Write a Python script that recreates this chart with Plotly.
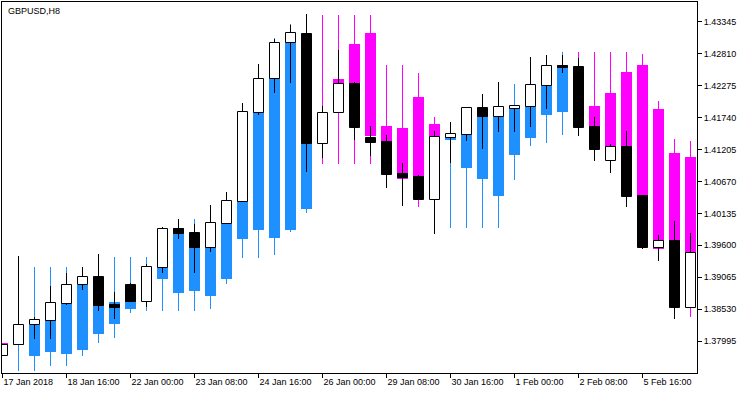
import plotly.graph_objects as go

# ---- data (GBPUSD, H8) ----
tick_pos = [0, 4, 8, 12, 16, 20, 24, 28, 32, 36, 40]
tick_text = ["17 Jan 2018", "18 Jan 16:00", "22 Jan 00:00", "23 Jan 08:00", "24 Jan 16:00",
             "26 Jan 00:00", "29 Jan 08:00", "30 Jan 16:00", "1 Feb 00:00", "2 Feb 08:00",
             "5 Feb 16:00"]
price_ticks = [1.43345, 1.42810, 1.42275, 1.41740, 1.41205, 1.40670,
               1.40135, 1.39600, 1.39065, 1.38530, 1.37995]

open_ = [1.37749, 1.37923, 1.38259, 1.38333, 1.38616, 1.38929, 1.39064, 1.38599, 1.38929, 1.38654,
         1.39220, 1.39869, 1.39802, 1.39560, 1.39963, 1.40331, 1.41824, 1.42384, 1.42988, 1.43144,
         1.41304, 1.41814, 1.42305, 1.41400, 1.41333, 1.40801, 1.40746, 1.40365, 1.41405, 1.41455,
         1.41903, 1.41757, 1.41881, 1.41915, 1.42272, 1.42612, 1.42590, 1.41584, 1.41019, 1.41249,
         1.40427, 1.39560, 1.39672, 1.38554]
high = [1.37928, 1.39421, 1.38403, 1.38918, 1.39141, 1.39236, 1.39454, 1.38822, 1.38963, 1.39287,
        1.39907, 1.40036, 1.39958, 1.40276, 1.40499, 1.41982, 1.42641, 1.43055, 1.43295, 1.43479,
        1.41936, 1.42876, 1.42344, 1.41601, 1.41450, 1.40975, 1.40784, 1.41517, 1.41668, 1.41903,
        1.42138, 1.42339, 1.41936, 1.42758, 1.42792, 1.42792, 1.42746, 1.41752, 1.41299, 1.41517,
        1.40427, 1.39773, 1.40008, 1.39802]
low = [1.37749, 1.37923, 1.38029, 1.38029, 1.38594, 1.38856, 1.38504, 1.38364, 1.38649, 1.38571,
       1.39141, 1.39706, 1.39136, 1.39488, 1.39963, 1.40331, 1.41785, 1.42159, 1.42327, 1.40830,
       1.41069, 1.41814, 1.41366, 1.41103, 1.40566, 1.40254, 1.40360, 1.39795, 1.40975, 1.41354,
       1.41215, 1.41505, 1.41505, 1.41589, 1.41891, 1.42485, 1.41433, 1.41019, 1.40818, 1.40248,
       1.39533, 1.39342, 1.38359, 1.38554]
close = [1.37928, 1.38264, 1.38343, 1.38631, 1.38929, 1.39064, 1.38582, 1.38554, 1.38649, 1.39231,
         1.39869, 1.39795, 1.39560, 1.39969, 1.40338, 1.41831, 1.42384, 1.42988, 1.43156, 1.41299,
         1.41814, 1.42300, 1.41573, 1.41321, 1.40784, 1.40734, 1.40360, 1.41416, 1.41462, 1.41903,
         1.41752, 1.41915, 1.41936, 1.42289, 1.42607, 1.42574, 1.41573, 1.41204, 1.41249, 1.40415,
         1.39550, 1.39672, 1.38554, 1.39466]

# indicator candles (coloured)
ha_open = [1.37962, 1.37928, 1.37749, 1.37806, 1.37777, 1.37844, 1.38113, 1.38281, 1.38532, 1.38767,
           1.39035, 1.38800, 1.38839, 1.38755, 1.39035, 1.39711, 1.39862, 1.39728, 1.39862, 1.40209,
           1.41735, 1.42389, 1.42976, 1.43161, 1.41601, 1.41567, 1.42087, 1.41635, 1.41371, 1.40897,
           1.40712, 1.40432, 1.41115, 1.41405, 1.41785, 1.41836, 1.42372, 1.41936, 1.42154, 1.42512,
           1.42624, 1.41886, 1.41148, 1.41086]
ha_high = [1.37962, 1.39421, 1.39236, 1.39236, 1.39236, 1.39236, 1.39454, 1.39404, 1.39404, 1.39404,
           1.39907, 1.40036, 1.40036, 1.40276, 1.40499, 1.41982, 1.42641, 1.43077, 1.43312, 1.43479,
           1.43462, 1.43462, 1.43462, 1.43462, 1.42624, 1.42624, 1.42490, 1.41752, 1.41668, 1.41903,
           1.42138, 1.42339, 1.42305, 1.42758, 1.42792, 1.42847, 1.42847, 1.42847, 1.42847, 1.42847,
           1.42808, 1.42020, 1.41383, 1.41350]
ha_low = [1.37844, 1.37492, 1.37492, 1.37581, 1.37581, 1.37749, 1.37962, 1.38051, 1.38465, 1.38504,
          1.38504, 1.38504, 1.38504, 1.38532, 1.38956, 1.39387, 1.39392, 1.39443, 1.39823, 1.40142,
          1.40969, 1.40969, 1.40969, 1.40969, 1.40695, 1.40528, 1.40248, 1.40360, 1.39895, 1.39895,
          1.39895, 1.39895, 1.40695, 1.41271, 1.41321, 1.41455, 1.41534, 1.41198, 1.40947, 1.40360,
          1.39689, 1.39342, 1.38515, 1.38403]
ha_close = [1.37844, 1.38180, 1.38259, 1.38431, 1.38683, 1.38929, 1.38851, 1.38649, 1.38767, 1.39018,
            1.39522, 1.39890, 1.39689, 1.39857, 1.40192, 1.41198, 1.42037, 1.42708, 1.43166, 1.42708,
            1.41366, 1.42037, 1.41590, 1.41433, 1.40863, 1.40717, 1.40444, 1.41031, 1.41433, 1.41785,
            1.41785, 1.41920, 1.41936, 1.42121, 1.42456, 1.42629, 1.41702, 1.41366, 1.41198, 1.40528,
            1.39857, 1.39538, 1.38851, 1.38851]

BLUE = "#1E90FF"
MAGENTA = "#FF00FF"

n = len(open_)
idx = list(range(n))

ha_col = [BLUE if c >= o else MAGENTA for o, c in zip(ha_open, ha_close)]
ha_base = [min(o, c) for o, c in zip(ha_open, ha_close)]
ha_h = [max(abs(c - o), 1e-6) for o, c in zip(ha_open, ha_close)]
ha_wbase = ha_low
ha_wh = [h - l for h, l in zip(ha_high, ha_low)]

c_fill = ["#FFFFFF" if c >= o else "#000000" for o, c in zip(open_, close)]
c_base = [min(o, c) for o, c in zip(open_, close)]
c_h = [max(abs(c - o), 1e-6) for o, c in zip(open_, close)]
w_h = [h - l for h, l in zip(high, low)]

PX = 1 / 16.0  # one candle step = 16 px

fig = go.Figure()
# indicator wicks
fig.add_trace(go.Bar(x=idx, y=ha_wh, base=ha_wbase, width=0.9 * PX,
                     marker=dict(color=ha_col, line=dict(width=0)), hoverinfo="skip"))
# indicator bodies
fig.add_trace(go.Bar(x=idx, y=ha_h, base=ha_base, width=11 * PX,
                     marker=dict(color=ha_col, line=dict(width=0)), hoverinfo="skip"))
# price wicks
fig.add_trace(go.Bar(x=idx, y=w_h, base=low, width=0.9 * PX,
                     marker=dict(color="#000000", line=dict(width=0)), hoverinfo="skip"))
# price bodies
fig.add_trace(go.Bar(x=idx, y=c_h, base=c_base, width=10 * PX,
                     marker=dict(color=c_fill, line=dict(color="#000000", width=1)),
                     hoverinfo="skip"))

FONT = dict(family="Liberation Sans, Arial, sans-serif", size=9, color="#000000")

fig.update_layout(
    width=750, height=394,
    margin=dict(l=2, r=53, t=2, b=21),
    paper_bgcolor="white", plot_bgcolor="white",
    barmode="overlay", bargap=0, bargroupgap=0,
    showlegend=False, hovermode=False,
    font=FONT,
    xaxis=dict(range=[-0.5 * PX, -0.5 * PX + 695 * PX], tickvals=tick_pos, ticktext=tick_text,
               showgrid=False, zeroline=False, showline=True, mirror=True,
               linecolor="#000000", linewidth=1, ticks="outside", ticklen=4,
               tickcolor="#000000", tickwidth=1, ticklabelposition="outside right",
               tickfont=FONT, fixedrange=True),
    yaxis=dict(range=[1.37459, 1.43680], side="right", tickvals=price_ticks,
               ticktext=["%.5f" % v for v in price_ticks],
               showgrid=False, zeroline=False, showline=True, mirror=True,
               linecolor="#000000", linewidth=1, ticks="outside", ticklen=4,
               tickcolor="#000000", tickwidth=1, tickfont=FONT, fixedrange=True),
    annotations=[dict(text="GBPUSD,H8", xref="paper", yref="paper", x=0, y=1,
                      xanchor="left", yanchor="top", xshift=4, yshift=-2,
                      showarrow=False, font=FONT)],
)

fig.write_html("out.html", config={"displayModeBar": False},
               post_script="document.body.style.margin='0';document.body.style.overflow='hidden';")
